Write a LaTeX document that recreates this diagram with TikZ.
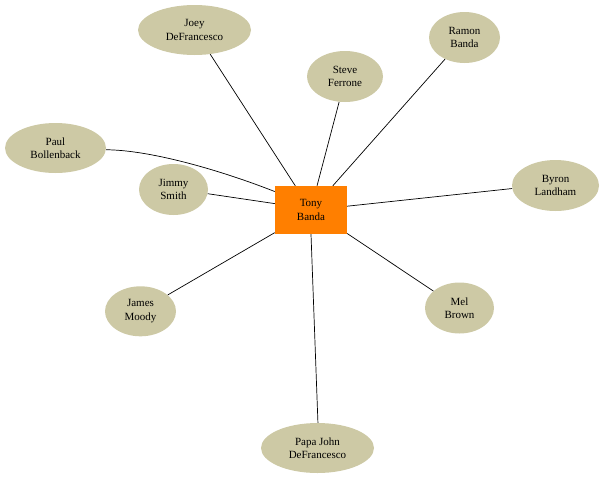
\documentclass[tikz,border=0pt]{standalone}
\usepackage{fontspec}
\setmainfont{Liberation Serif}
\usetikzlibrary{shapes.geometric}
\definecolor{khaki}{RGB}{205,201,165}
\definecolor{orangebox}{RGB}{255,127,0}
\tikzset{
  person/.style={ellipse, fill=khaki, draw=none, inner sep=0pt, align=center,
    font=\fontsize{11}{13.5}\selectfont},
  hub/.style={rectangle, fill=orangebox, draw=none, inner sep=0pt, align=center,
    minimum width=72pt, minimum height=48pt, font=\fontsize{11}{13.5}\selectfont},
  link/.style={draw=black, line width=0.7pt}
}
\begin{document}
\begin{tikzpicture}[x=1pt,y=-1pt]
\useasboundingbox (0,0) rectangle (604,477);
\node[hub] (tony) at (311,210) {Tony\\Banda};
\node[person, minimum width=113pt, minimum height=50pt] (joey) at (194.5,30) {Joey\\DeFrancesco};
\node[person, minimum width=76pt, minimum height=51pt] (steve) at (345,76.5) {Steve\\Ferrone};
\node[person, minimum width=71pt, minimum height=51pt] (ramon) at (464.5,37.5) {Ramon\\Banda};
\node[person, minimum width=101pt, minimum height=50pt] (paul) at (55.5,148) {Paul\\Bollenback};
\node[person, minimum width=69pt, minimum height=51pt] (jimmy) at (173.5,189.5) {Jimmy\\Smith};
\node[person, minimum width=87pt, minimum height=51pt] (byron) at (555.5,185.5) {Byron\\Landham};
\node[person, minimum width=71pt, minimum height=50pt] (james) at (140.5,311.3) {James\\Moody};
\node[person, minimum width=69pt, minimum height=51pt] (mel) at (459.5,308) {Mel\\Brown};
\node[person, minimum width=113pt, minimum height=50pt] (papa) at (317.5,448) {Papa John\\DeFrancesco};

\draw[link] (joey.-57) -- (tony.123.7);
\draw[link] (steve.-103.8) -- (tony.76);
\draw[link] (ramon.-132) -- (tony.48.8);
\draw[link] (paul.-2.3) .. controls (150,150) and (220,170) .. (tony.153.4);
\draw[link] (jimmy.-7.7) -- (tony.170.5);
\draw[link] (byron.184.6) -- (tony.6.2);
\draw[link] (james.31.6) -- (tony.212.2);
\draw[link] (mel.147.9) -- (tony.-33.7);
\draw[link] (papa.89) -- (tony.-90);
\end{tikzpicture}
\end{document}
